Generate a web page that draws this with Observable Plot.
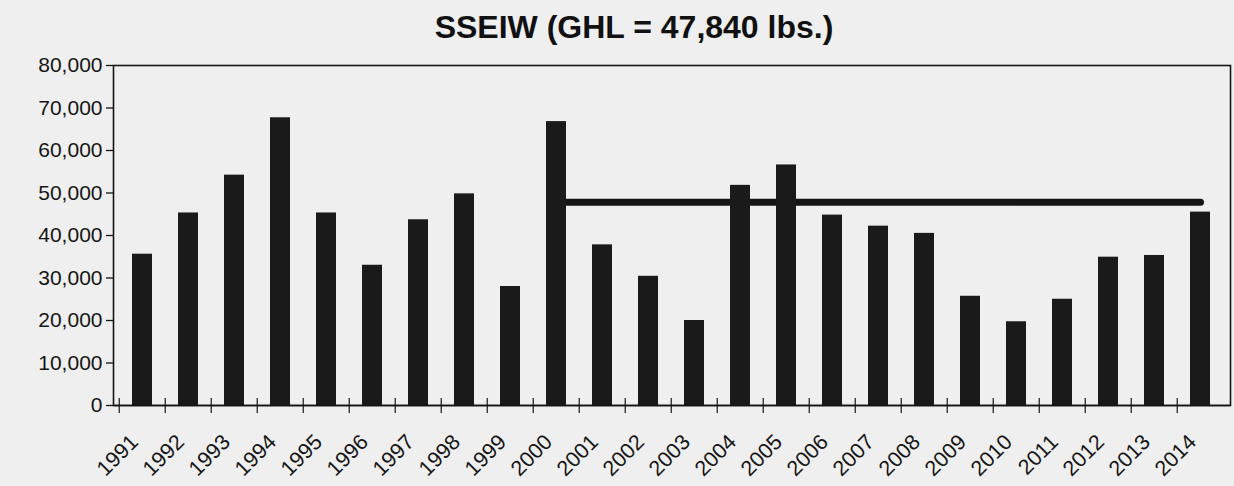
<!DOCTYPE html>
<html>
<head>
<meta charset="utf-8">
<script src="https://cdn.jsdelivr.net/npm/d3@7"></script>
<script src="https://cdn.jsdelivr.net/npm/@observablehq/plot@0.6"></script>
<style>
  html, body { margin: 0; padding: 0; background: #efefef; }
  #title {
    width: 1234px; height: 55px; line-height: 55px;
    box-sizing: border-box; padding-left: 34px;
    text-align: center; font-family: "Liberation Sans", Arial, sans-serif;
    font-weight: bold; font-size: 32px; color: #111;
    position: relative; z-index: 1;
  }
  #chart { margin-top: -15px; }
  #chart svg { display: block; }
</style>
</head>
<body>
<div id="title">SSEIW (GHL = 47,840 lbs.)</div>
<div id="chart"></div>
<script>
const years = [1991, 1992, 1993, 1994, 1995, 1996, 1997, 1998, 1999, 2000, 2001, 2002,
               2003, 2004, 2005, 2006, 2007, 2008, 2009, 2010, 2011, 2012, 2013, 2014];
const harvest = [35600, 45300, 54200, 67700, 45300, 33000, 43700, 49800, 28000, 66800, 37800, 30400,
                 20000, 51800, 56600, 44800, 42200, 40500, 25700, 19700, 25000, 34900, 35300, 45500];
const ghlYears = [2000, 2001, 2002, 2003, 2004, 2005, 2006, 2007, 2008, 2009, 2010, 2011, 2012, 2013, 2014];
const ghlValue = 47840;
const yTicks = [0, 10000, 20000, 30000, 40000, 50000, 60000, 70000, 80000];

const data = years.map((year, i) => ({year, value: harvest[i]}));
const ghl = ghlYears.map(year => ({year, value: ghlValue}));

const W = 1234, H = 446, ML = 113, MR = 4;
const step = (W - ML - MR) / years.length;
const ink = "#151515";

const chart = Plot.plot({
  width: W, height: H,
  marginTop: 25, marginBottom: 81, marginLeft: ML, marginRight: MR,
  style: {background: "transparent", fontFamily: "'Liberation Sans', Arial, sans-serif", fontSize: "21px", color: ink},
  x: {type: "band", domain: years, paddingInner: 0.56, paddingOuter: 0.28, label: null},
  y: {domain: [0, 80000], label: null},
  marks: [
    Plot.lineY(ghl, {x: "year", y: "value", stroke: ink, strokeWidth: 7, strokeLinecap: "round"}),
    Plot.barY(data, {x: "year", y: "value", fill: "#1a1a1a"}),
    Plot.ruleY([0], {stroke: ink, strokeWidth: 1.5}),
    Plot.frame({stroke: ink, strokeWidth: 1.6}),
    Plot.axisY({ticks: yTicks, tickFormat: d3.format(","), tickSize: 7, tickPadding: 4, fontSize: 21, stroke: ink, strokeWidth: 1.3, label: null}),
    Plot.axisX({tickSize: 0, tickRotate: -45, tickPadding: 33, dx: -8, fontSize: 21.5, tickFormat: d => String(d), label: null}),
    Plot.axisX({tickSize: 15, dy: -7, dx: -step / 2, tickFormat: () => "", stroke: ink, strokeWidth: 1.2, label: null})
  ]
});
document.getElementById("chart").appendChild(chart);
</script>
</body>
</html>
